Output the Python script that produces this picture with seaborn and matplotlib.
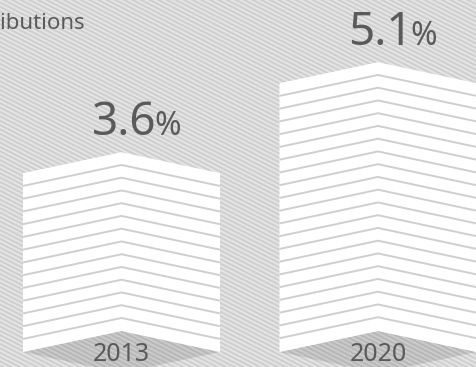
import numpy as np
import pandas as pd
import matplotlib
matplotlib.use("Agg")
import matplotlib.pyplot as plt
from matplotlib.patches import Polygon
import seaborn as sns

# --- data ---------------------------------------------------------------
years = ["2013", "2020"]
shares = [3.6, 5.1]          # percent
title_text = "contributions"

# --- style --------------------------------------------------------------
sns.set_theme(style="white")
plt.rcParams["font.family"] = ["Noto Sans", "DejaVu Sans"]
plt.rcParams["font.weight"] = "light"
TEXT = "#5a5a5a"

W, H, DPI = 476, 367, 100
fig = plt.figure(figsize=(W / DPI, H / DPI), dpi=DPI)
fig.patch.set_facecolor("#d8d8d8")

# fine diagonal pinstripe backdrop
rows, cols = np.mgrid[0:H, 0:W]
theta = np.deg2rad(27)
period = 3.9
t = rows * np.cos(theta) - cols * np.sin(theta)
wave = 0.5 + 0.5 * np.cos(2 * np.pi * t / period)
backdrop = 0.80 + 0.10 * wave
fig.figimage(backdrop, xo=0, yo=0, cmap="gray", vmin=0, vmax=1,
             origin="upper", zorder=-1)

ax = fig.add_axes([0, 0, 1, 1])
ax.patch.set_visible(False)

df = pd.DataFrame({"year": years, "share": shares})
sns.barplot(data=df, x="year", y="share", width=0.768, color="white",
            errorbar=None, ax=ax)

base = 0.62      # common floor of the columns
rise = 0.35      # height of the folded (chevron) crease
step = 0.2125    # spacing of the stacked slats

for patch, val in zip(list(ax.patches), shares):
    x0 = patch.get_x()
    w = patch.get_width()
    top = patch.get_height()
    patch.set_visible(False)
    xc, x1 = x0 + w / 2, x0 + w

    # floor shadow under the folded column
    ax.add_patch(Polygon([(x0, base), (xc, base + rise), (x1, base), (xc, base - rise)],
                         closed=True, fc="black", alpha=0.11, ec="none", zorder=2))
    # the folded column itself
    ax.add_patch(Polygon([(x0, base), (x0, top), (xc, top + rise), (x1, top),
                          (x1, base), (xc, base + rise)],
                         closed=True, fc="white", ec="none", zorder=3))
    # slat separators
    level = top - step
    while level > base + step * 0.5:
        ax.plot([x0, xc, x1], [level, level + rise, level], color="#cfcfcf",
                lw=1.4, zorder=4, solid_joinstyle="miter", solid_capstyle="butt")
        level -= step

# value labels and year labels
for i, (yr, val) in enumerate(zip(years, shares)):
    ylab = val + rise + 0.283
    num = ax.text(i + 0.01, ylab, f"{val:.1f}", ha="center", va="baseline",
                  fontsize=33, color=TEXT, zorder=5)
    ax.annotate("%", xy=(1.0, ylab), xycoords=(num, "data"),
                xytext=(-1.5, 0), textcoords="offset points",
                ha="left", va="baseline", fontsize=23, color=TEXT, zorder=5)
    ax.text(i, 0.462, yr, ha="center", va="baseline", fontsize=18,
            color=TEXT, zorder=5)

fig.text(85 / W, 1 - 29 / H, title_text, ha="right", va="baseline",
         fontsize=16, color=TEXT)

ax.set_xlim(-0.4737, 1.3821)
ax.set_ylim(0.37, 6.4867)
ax.set_axis_off()

fig.savefig("out.png", dpi=DPI)
